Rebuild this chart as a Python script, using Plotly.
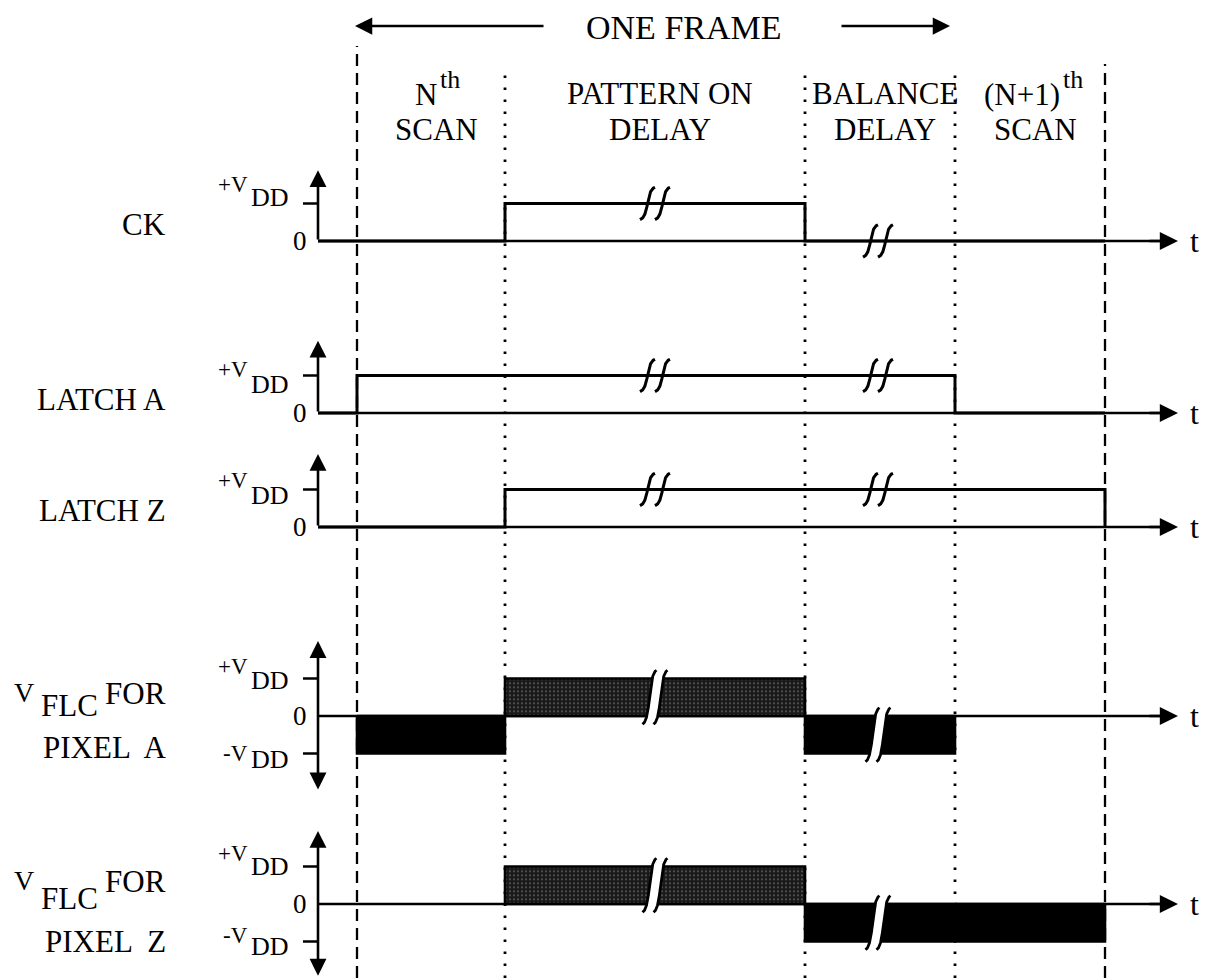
import numpy as np
import plotly.graph_objects as go

W, H = 1207, 978
SERIF = "Liberation Serif"

# Phase boundaries of one frame (time units; every time axis starts at t = 0)
phase_edges = [0.39, 1.87, 4.87, 6.37, 7.87]
t_end = 8.60
# caption first line: (main text, raised suffix)
phase_top = [("N", "th"), ("PATTERN ON", ""), ("BALANCE", ""), ("(N+1)", "th")]
phase_bottom = ["SCAN", "DELAY", "DELAY", "SCAN"]

# Levels in units of V_DD for the six intervals:
# before the frame, N-th scan, pattern-on delay, balance delay, (N+1)-th scan, after
ck_levels = [0, 0, 1, 0, 0, 0]
latch_a_levels = [0, 1, 1, 1, 0, 0]
latch_z_levels = [0, 0, 1, 1, 1, 0]
pixel_a_levels = [0, -1, 1, -1, 0, 0]
pixel_z_levels = [0, 0, 1, -1, -1, 0]

# Times at which the long delays are drawn broken
break_times = [3.37, 5.60]

seg_x = [0.0] + phase_edges + [t_end]

# Row layout: baseline in page pixels, label placement in axis units
rows = [
    dict(levels=ck_levels, kind="logic", base=241, top=1.89,
         labels=[("CK", -1.50, 0.43, "right", 31)],
         vdd=[("+V", "DD", 1.50, 1.17)]),
    dict(levels=latch_a_levels, kind="logic", base=413, top=1.93,
         labels=[("LATCH A", -1.50, 0.37, "right", 31)],
         vdd=[("+V", "DD", 1.15, 0.75)]),
    dict(levels=latch_z_levels, kind="logic", base=527, top=1.95,
         labels=[("LATCH Z", -1.50, 0.45, "right", 31)],
         vdd=[("+V", "DD", 1.25, 0.83)]),
    dict(levels=pixel_a_levels, kind="bipolar", base=716, top=2.0,
         labels=[("V", -3.06, 0.64, "left", 28), ("FLC", -2.79, 0.29, "left", 31),
                 ("FOR", -1.50, 0.61, "right", 31), ("PIXEL  A", -1.50, -0.85, "right", 31)],
         vdd=[("+V", "DD", 1.33, 0.96), ("-V", "DD", -1.00, -1.17)]),
    dict(levels=pixel_z_levels, kind="bipolar", base=904, top=1.95,
         labels=[("V", -3.06, 0.64, "left", 28), ("FLC", -2.79, 0.16, "left", 31),
                 ("FOR", -1.50, 0.61, "right", 31), ("PIXEL  Z", -1.50, -0.99, "right", 31)],
         vdd=[("+V", "DD", 1.36, 0.99), ("-V", "DD", -0.85, -1.12)]),
]

# where the raised suffix starts, relative to the caption centre (time units)
caption_split = [0.03, 0.0, 0.0, 0.27]

PX_PER_UNIT = 37.5
Y_REACH = 2.1


def paper_y(px):
    return 1 - px / H


def s_stroke(xc, y0, y1, w, n=80):
    """Integral-sign shaped break stroke from (xc-w, y0) to (xc+w, y1)."""
    t = np.linspace(0, 1, n)
    dy = y1 - y0
    p = np.array([[xc - w, y0], [xc + 0.25 * w, y0 + 0.08 * dy],
                  [xc - 0.25 * w, y1 - 0.08 * dy], [xc + w, y1]])
    b = ((1 - t) ** 3)[:, None] * p[0] + (3 * (1 - t) ** 2 * t)[:, None] * p[1] \
        + (3 * (1 - t) * t ** 2)[:, None] * p[2] + (t ** 3)[:, None] * p[3]
    return b[:, 0], b[:, 1]


def level_at(levels, t):
    for i in range(len(seg_x) - 1):
        if seg_x[i] <= t < seg_x[i + 1]:
            return levels[i]
    return levels[-1]


fig = go.Figure()
layout_axes = {}
annotations = []
shapes = []

line_kw = dict(color="black", width=3)

for k, row in enumerate(rows):
    yname = "y" if k == 0 else f"y{k + 1}"
    ykey = "yaxis" if k == 0 else f"yaxis{k + 1}"
    b = row["base"]
    top_px = max(b - Y_REACH * PX_PER_UNIT, 0)
    bot_px = min(b + Y_REACH * PX_PER_UNIT, H)
    layout_axes[ykey] = dict(
        domain=[paper_y(bot_px), paper_y(top_px)],
        range=[-(bot_px - b) / PX_PER_UNIT, (b - top_px) / PX_PER_UNIT],
        anchor="x", visible=False, fixedrange=True,
    )
    common = dict(xaxis="x", yaxis=yname, mode="lines", hoverinfo="skip", showlegend=False)
    levels = row["levels"]

    # time axis line (arrowhead added as an annotation)
    fig.add_trace(go.Scatter(x=[0, t_end - 0.12], y=[0, 0], line=dict(color="black", width=2.6), **common))

    if row["kind"] == "logic":
        fig.add_trace(go.Scatter(x=[0.0] + phase_edges, y=levels, line_shape="hv", line=line_kw, **common))
        for bt in break_times:
            lv = level_at(levels, bt)
            for dx in (-0.075, 0.075):
                sx, sy = s_stroke(bt + dx, lv - 0.43, lv + 0.43, 0.075)
                fig.add_trace(go.Scatter(x=sx, y=sy, line=dict(color="black", width=3), **common))
    else:
        for i, lv in enumerate(levels):
            if lv == 0:
                continue
            a, c = seg_x[i], seg_x[i + 1]
            bar = dict(x=[a, c, c, a, a], y=[0, 0, lv, lv, 0], fill="toself",
                       line=dict(color="black", width=2.6))
            if lv > 0:
                fig.add_trace(go.Scatter(
                    fillcolor="#1e1e1e",
                    fillpattern=dict(shape=".", bgcolor="#1a1a1a", fgcolor="#7c7c7c",
                                     size=4, solidity=0.14, fillmode="replace"),
                    **bar, **common))
            else:
                fig.add_trace(go.Scatter(fillcolor="black", **bar, **common))
        for bt in break_times:
            lv = level_at(levels, bt)
            if lv == 0:
                continue
            lo, hi = min(0, lv), max(0, lv)
            mid = lv / 2
            lx, ly = s_stroke(bt - 0.055, mid - 0.72, mid + 0.72, 0.07)
            rx, ry = s_stroke(bt + 0.055, mid - 0.72, mid + 0.72, 0.07)
            yq = np.linspace(lo - 0.06, hi + 0.06, 60)
            gx = np.concatenate([np.interp(yq, ly, lx), np.interp(yq[::-1], ry, rx)])
            gy = np.concatenate([yq, yq[::-1]])
            fig.add_trace(go.Scatter(x=gx, y=gy, fill="toself", fillcolor="white",
                                     line=dict(color="white", width=0), **common))
            for sx, sy in ((lx, ly), (rx, ry)):
                fig.add_trace(go.Scatter(x=sx, y=sy, line=dict(color="black", width=2.8), **common))

    # arrowhead of the time axis and the "t" label
    annotations.append(dict(x=t_end, y=0, ax=t_end - 0.3, ay=0, xref="x", yref=yname,
                            axref="x", ayref=yname, showarrow=True, arrowhead=2,
                            arrowsize=1.4, arrowwidth=2.6, arrowcolor="black", text=""))
    annotations.append(dict(x=8.76, y=0, xref="x", yref=yname, text="t", showarrow=False,
                            font=dict(family=SERIF, size=32, color="black"),
                            xanchor="center", yanchor="middle"))

    # vertical amplitude axis
    if row["kind"] == "logic":
        annotations.append(dict(x=0, y=row["top"], ax=0, ay=0, xref="x", yref=yname,
                                axref="x", ayref=yname, showarrow=True, arrowhead=2,
                                arrowsize=1.3, arrowwidth=2.6, arrowcolor="black", text=""))
        tick_levels = [1]
    else:
        annotations.append(dict(x=0, y=row["top"], ax=0, ay=-row["top"], xref="x", yref=yname,
                                axref="x", ayref=yname, showarrow=True, arrowhead=2,
                                startarrowhead=2, arrowside="end+start",
                                arrowsize=1.3, startarrowsize=1.3, arrowwidth=2.6,
                                arrowcolor="black", text=""))
        tick_levels = [1, -1]
    for tl in tick_levels:
        shapes.append(dict(type="line", xref="x", yref=yname, x0=-0.15, x1=0, y0=tl, y1=tl,
                           line=dict(color="black", width=2.5)))

    annotations.append(dict(x=-0.09, y=0, xref="x", yref=yname, text="0", showarrow=False,
                            font=dict(family=SERIF, size=27, color="black"),
                            xanchor="right", yanchor="middle"))
    for sign_v, dd, yv, ydd in row["vdd"]:
        annotations.append(dict(x=-0.68, y=yv, xref="x", yref=yname, text=sign_v, showarrow=False,
                                font=dict(family=SERIF, size=23, color="black"),
                                xanchor="right", yanchor="middle"))
        annotations.append(dict(x=-0.69, y=ydd, xref="x", yref=yname, text=dd, showarrow=False,
                                font=dict(family=SERIF, size=26, color="black"),
                                xanchor="left", yanchor="middle"))
    for txt, lx_, ly_, anchor, fs in row["labels"]:
        annotations.append(dict(x=lx_, y=ly_, xref="x", yref=yname, text=txt, showarrow=False,
                                font=dict(family=SERIF, size=fs, color="black"),
                                xanchor=anchor, yanchor="middle"))

# phase boundaries: dashed for the frame limits, dotted inside
for i, e in enumerate(phase_edges):
    outer = i in (0, len(phase_edges) - 1)
    start_px = 46 if i == 0 else (64 if outer else 68)
    shapes.append(dict(type="line", xref="x", yref="paper", x0=e, x1=e,
                       y0=0, y1=paper_y(start_px), layer="below",
                       line=dict(color="black", width=2.3 if outer else 2.8,
                                 dash="12px,7px" if outer else "2.5px,9.5px")))

# phase captions
cap_font = dict(family=SERIF, size=31, color="black")
for i in range(4):
    xc = (phase_edges[i] + phase_edges[i + 1]) / 2 + 0.05
    main, raised = phase_top[i]
    if raised:
        # main part ends at the split point, raised suffix follows it
        split = xc + caption_split[i]
        annotations.append(dict(x=split, y=paper_y(94), xref="x", yref="paper", text=main,
                                showarrow=False, font=cap_font, xanchor="right", yanchor="middle"))
        annotations.append(dict(x=split - 0.01, y=paper_y(79), xref="x", yref="paper", text=raised,
                                showarrow=False, font=dict(family=SERIF, size=26, color="black"),
                                xanchor="left", yanchor="middle"))
    else:
        annotations.append(dict(x=xc, y=paper_y(93), xref="x", yref="paper", text=main,
                                showarrow=False, font=cap_font, xanchor="center", yanchor="middle"))
    annotations.append(dict(x=xc, y=paper_y(129), xref="x", yref="paper", text=phase_bottom[i],
                            showarrow=False, font=cap_font, xanchor="center", yanchor="middle"))

# "ONE FRAME" with its two arrows
annotations.append(dict(x=3.66, y=paper_y(28), xref="x", yref="paper", text="ONE FRAME",
                        showarrow=False, font=dict(family=SERIF, size=34, color="black"),
                        xanchor="center", yanchor="middle"))
annotations.append(dict(x=0.37, y=paper_y(26), ax=2.27, ay=0, xref="x", yref="paper",
                        axref="x", ayref="pixel", showarrow=True, arrowhead=2, arrowsize=1.5,
                        arrowwidth=2.3, arrowcolor="black", text=""))
annotations.append(dict(x=6.32, y=paper_y(26), ax=5.22, ay=0, xref="x", yref="paper",
                        axref="x", ayref="pixel", showarrow=True, arrowhead=2, arrowsize=1.5,
                        arrowwidth=2.3, arrowcolor="black", text=""))

fig.update_layout(
    width=W, height=H, autosize=False,
    margin=dict(l=0, r=0, t=0, b=0, pad=0),
    paper_bgcolor="white", plot_bgcolor="rgba(0,0,0,0)",
    xaxis=dict(range=[-3.18, 8.89], domain=[0, 1], visible=False, fixedrange=True),
    annotations=annotations, shapes=shapes, showlegend=False,
    **layout_axes,
)

fig.write_html("out.html", config=dict(displayModeBar=False))
